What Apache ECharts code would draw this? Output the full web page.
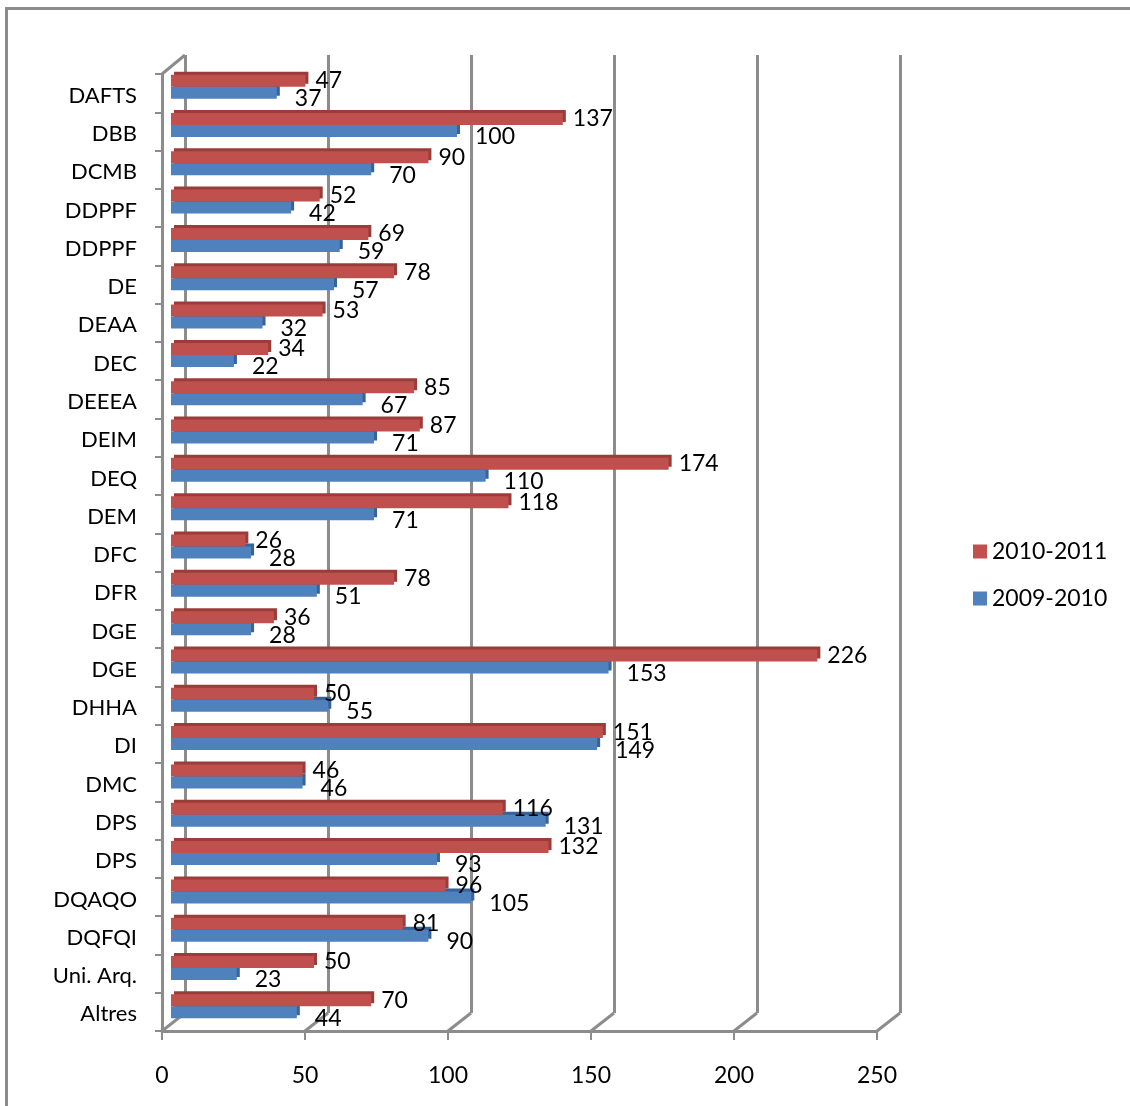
<!DOCTYPE html>
<html><head><meta charset="utf-8">
<script src="https://cdn.jsdelivr.net/npm/echarts@6/dist/echarts.min.js"></script>
<style>
html,body{margin:0;padding:0;background:#fff;overflow:hidden;}
#frame{position:absolute;left:5px;top:7px;width:1300px;height:1300px;border-left:3px solid #8c8c8c;border-top:3px solid #8c8c8c;}
#chart{position:absolute;left:0;top:0;width:1130px;height:1106px;}
</style></head><body>
<div id="frame"></div><div id="chart"></div>
<script>
const categories = ['DAFTS','DBB','DCMB','DDPPF','DDPPF','DE','DEAA','DEC','DEEEA','DEIM','DEQ','DEM','DFC','DFR','DGE','DGE','DHHA','DI','DMC','DPS','DPS','DQAQO','DQFQI','Uni. Arq.','Altres'];
const values2010_2011 = [47,137,90,52,69,78,53,34,85,87,174,118,26,78,36,226,50,151,46,116,132,96,81,50,70];
const values2009_2010 = [37,100,70,42,59,57,32,22,67,71,110,71,28,51,28,153,55,149,46,131,93,105,90,23,44];
const seriesNames = ['2010-2011','2009-2010'];
const xTicks = [0,50,100,150,200,250];

const FONT = 'Lato, "Liberation Sans", sans-serif';
const GRAY = '#8c8c8c';
const catIdx = categories.map((c,i)=>i);

const chart = echarts.init(document.getElementById('chart'));
const option = {
  animation:false,
  backgroundColor:'transparent',
  textStyle:{fontFamily:FONT},
  grid:[
    {left:185, top:55, width:715, height:958},
    {left:162, top:74, width:715, height:957},
    {left:171, top:67.5, width:715, height:958}
  ],
  xAxis:[
    {gridIndex:0, type:'value', min:xTicks[0], max:xTicks[xTicks.length-1], interval:50,
     axisLine:{show:false}, axisTick:{show:false}, axisLabel:{show:false},
     splitLine:{show:true, lineStyle:{color:GRAY, width:3}}},
    {gridIndex:1, type:'value', min:xTicks[0], max:xTicks[xTicks.length-1], interval:50,
     axisLine:{show:true, lineStyle:{color:GRAY, width:3}},
     axisTick:{show:true, length:9, lineStyle:{color:GRAY, width:2}},
     axisLabel:{show:true, fontSize:23, fontFamily:FONT, color:'#000', margin:33},
     splitLine:{show:false}},
    {gridIndex:2, type:'value', min:xTicks[0], max:xTicks[xTicks.length-1], interval:50, show:false, splitLine:{show:false}}
  ],
  yAxis:[
    {gridIndex:0, type:'category', data:catIdx, inverse:true, show:false},
    {gridIndex:1, type:'category', data:catIdx, inverse:true,
     axisLine:{show:true, lineStyle:{color:GRAY, width:3}},
     axisTick:{show:true, length:7, lineStyle:{color:GRAY, width:2}},
     axisLabel:{show:true, color:'#000', margin:25,
       formatter:(v)=>'{c|' + categories[+v] + '}',
       rich:{c:{fontSize:22, fontFamily:FONT, color:'#000', padding:[5,0,0,0]}}}},
    {gridIndex:2, type:'category', data:catIdx, inverse:true, show:false}
  ],
  legend:{
    orient:'vertical', left:968, top:535, itemWidth:14, itemHeight:14, itemGap:24,
    icon:'rect', data:seriesNames,
    textStyle:{fontSize:23, fontFamily:FONT, color:'#000'}
  },
  series:[
    {name:seriesNames[0], type:'bar', xAxisIndex:2, yAxisIndex:2, z:3,
     data:values2010_2011, barWidth:12, barGap:'0%',
     itemStyle:{color:'#C0504D', shadowColor:'#9A3C39', shadowBlur:0, shadowOffsetX:3, shadowOffsetY:-3},
     label:{show:true, position:'right', distance:10, offset:[0,0], fontSize:23, fontFamily:FONT, color:'#000'}},
    {name:seriesNames[1], type:'bar', xAxisIndex:2, yAxisIndex:2, z:2,
     data:values2009_2010, barWidth:12, barGap:'0%',
     itemStyle:{color:'#4F81BD', shadowColor:'#35639A', shadowBlur:0, shadowOffsetX:3, shadowOffsetY:-3},
     label:{show:true, position:'right', distance:18, offset:[0,6], fontSize:23, fontFamily:FONT, color:'#000'}}
  ]
};
chart.setOption(option);

// perspective connectors between front axis plane and back wall
const n = categories.length;
function yEdges(axisIdx){
  const p0 = chart.convertToPixel({yAxisIndex:axisIdx}, 0);
  const p1 = chart.convertToPixel({yAxisIndex:axisIdx}, 1);
  const pl = chart.convertToPixel({yAxisIndex:axisIdx}, n-1);
  const band = p1 - p0;
  return {top:p0 - band/2, bottom:pl + band/2};
}
const fy = yEdges(1), by = yEdges(0);
const elements = [];
xTicks.forEach(v=>{
  const fx = chart.convertToPixel({xAxisIndex:1}, v);
  const bx = chart.convertToPixel({xAxisIndex:0}, v);
  elements.push({type:'line', z:1, shape:{x1:fx, y1:fy.bottom, x2:bx, y2:by.bottom}, style:{stroke:GRAY, lineWidth:3}});
});
{
  const fx = chart.convertToPixel({xAxisIndex:1}, 0);
  const bx = chart.convertToPixel({xAxisIndex:0}, 0);
  elements.push({type:'line', z:1, shape:{x1:fx, y1:fy.top, x2:bx, y2:by.top}, style:{stroke:GRAY, lineWidth:3}});
}
chart.setOption({graphic:{elements}});
</script>
</body></html>
